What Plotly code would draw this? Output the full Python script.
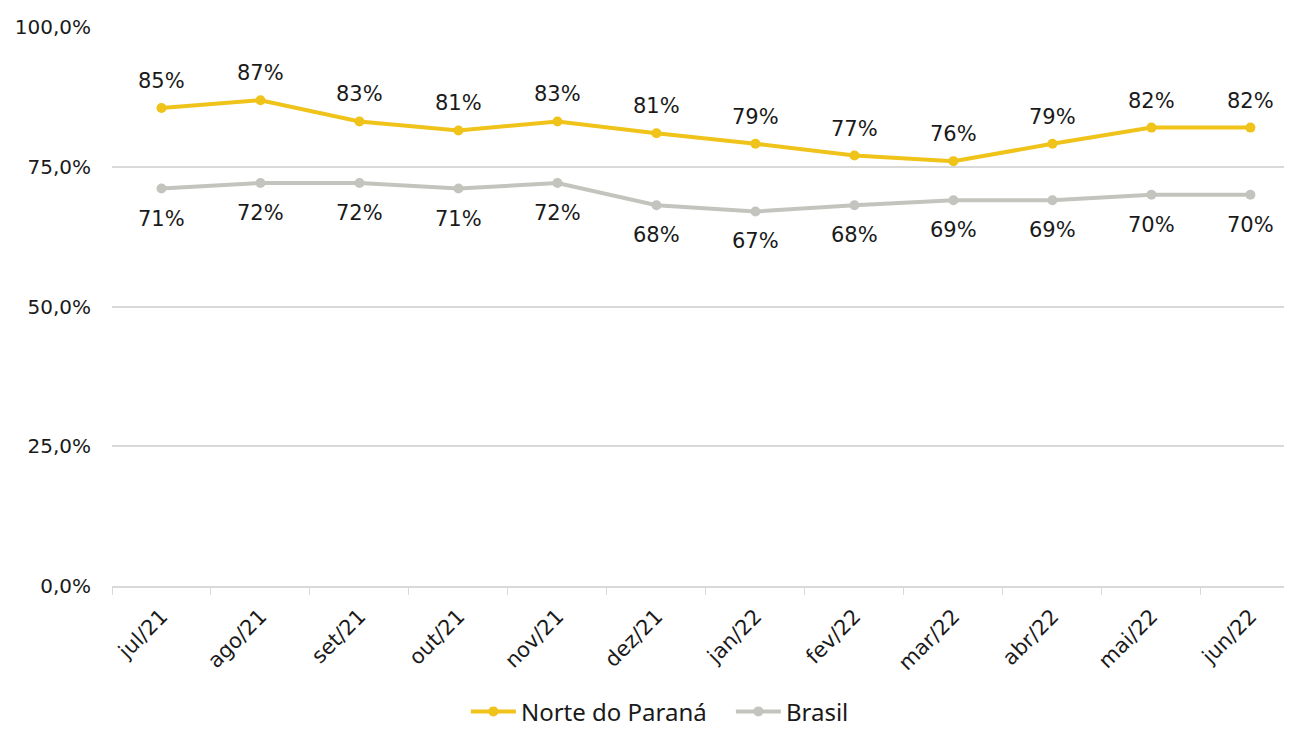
import plotly.graph_objects as go

months = ["jul/21", "ago/21", "set/21", "out/21", "nov/21", "dez/21",
          "jan/22", "fev/22", "mar/22", "abr/22", "mai/22", "jun/22"]
norte = [85.5, 86.9, 83.1, 81.5, 83.1, 81.0, 79.1, 77.0, 76.0, 79.1, 82.0, 82.0]
norte_lbl = ["85%", "87%", "83%", "81%", "83%", "81%", "79%", "77%", "76%", "79%", "82%", "82%"]
brasil = [71.1, 72.1, 72.1, 71.1, 72.1, 68.1, 67.0, 68.1, 69.0, 69.0, 70.0, 70.0]
brasil_lbl = ["71%", "72%", "72%", "71%", "72%", "68%", "67%", "68%", "69%", "69%", "70%", "70%"]
y_ticks = [0, 25, 50, 75, 100]
y_tick_lbl = ["0,0%", "25,0%", "50,0%", "75,0%", "100,0%"]

YELLOW = "#EFC31A"
GRAY = "#C4C4BE"
FONT = "DejaVu Sans"

fig = go.Figure()
fig.add_trace(go.Scatter(x=months, y=norte, name="Norte do Paraná", mode="lines+markers",
                         line=dict(color=YELLOW, width=4), marker=dict(size=10, color=YELLOW)))
fig.add_trace(go.Scatter(x=months, y=brasil, name="Brasil", mode="lines+markers",
                         line=dict(color=GRAY, width=4), marker=dict(size=10, color=GRAY)))

annotations = []
for m, v, t in zip(months, norte, norte_lbl):
    annotations.append(dict(x=m, y=v, text=t, showarrow=False, yshift=27,
                            font=dict(family=FONT, size=21, color="#1a1a1a")))
for m, v, t in zip(months, brasil, brasil_lbl):
    annotations.append(dict(x=m, y=v, text=t, showarrow=False, yshift=-30,
                            font=dict(family=FONT, size=21, color="#1a1a1a")))

fig.update_layout(
    width=1284, height=721,
    margin=dict(l=104, r=0, t=19, b=143, autoexpand=False),
    plot_bgcolor="white", paper_bgcolor="white",
    annotations=annotations,
    showlegend=True,
    legend=dict(orientation="h", xref="container", yref="paper", x=0.563, y=-0.225,
                xanchor="center", yanchor="middle",
                font=dict(family="Noto Sans", size=24, color="#1a1a1a"),
                traceorder="normal", itemwidth=45, entrywidth=205, entrywidthmode="pixels"),
    xaxis=dict(type="category", range=[-0.5, 11.42], tickangle=-45, automargin=False,
               tickson="boundaries", ticks="outside", ticklen=7, tickcolor="#D9D9D9",
               showline=True, linecolor="#D9D9D9", linewidth=1.5, showgrid=False,
               ticklabelstandoff=8,
               tickfont=dict(family=FONT, size=21, color="#1a1a1a")),
    yaxis=dict(range=[0, 100], tickvals=y_ticks, ticktext=y_tick_lbl, automargin=False,
               showgrid=True, gridcolor="#D9D9D9", gridwidth=1.5, zeroline=False,
               showline=False, ticks="", ticklabelstandoff=20,
               tickfont=dict(family=FONT, size=20, color="#1a1a1a")),
)

fig.write_html("out.html")
